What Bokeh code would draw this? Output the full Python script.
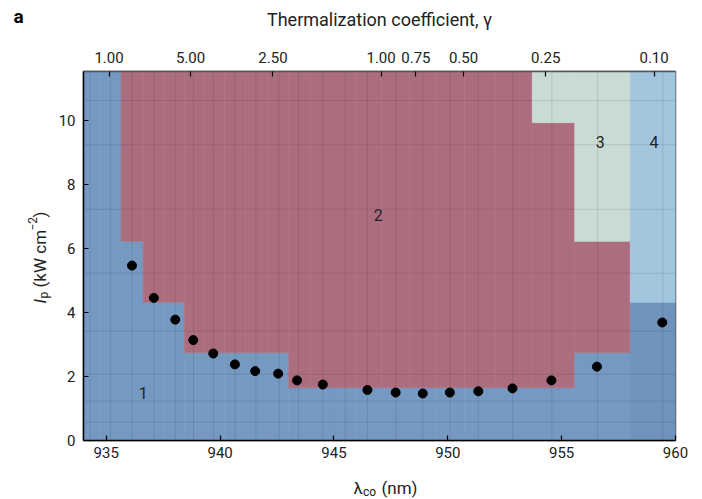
import numpy as np
from bokeh.plotting import figure
from bokeh.layouts import row, column
from bokeh.models import Range1d, LinearAxis, FixedTicker
from bokeh.embed import file_html
from bokeh.resources import INLINE
from bokeh.core.properties import value

# ---------------- data ----------------
# heat-map cell centres (wavelength, nm) and pump intensity (kW cm^-2)
x_centers = [934.30, 935.18, 936.13, 937.11, 938.03, 938.83, 939.71, 940.66, 941.57,
             942.59, 943.44, 944.51, 945.49, 946.47, 947.73, 948.90, 950.10, 951.34,
             952.85, 954.57, 956.58, 959.44]
y_centers = [0.57, 1.23, 2.07, 3.42, 5.23, 7.23, 9.25, 10.63]
# region id of every cell, one list per column, bottom -> top
region_cols = [
    [1, 1, 1, 1, 1, 1, 1, 1],
    [1, 1, 1, 1, 1, 1, 1, 1],
    [1, 1, 1, 1, 1, 2, 2, 2],
    [1, 1, 1, 1, 2, 2, 2, 2],
    [1, 1, 1, 1, 2, 2, 2, 2],
    [1, 1, 1, 2, 2, 2, 2, 2],
    [1, 1, 1, 2, 2, 2, 2, 2],
    [1, 1, 1, 2, 2, 2, 2, 2],
    [1, 1, 1, 2, 2, 2, 2, 2],
    [1, 1, 1, 2, 2, 2, 2, 2],
    [1, 1, 2, 2, 2, 2, 2, 2],
    [1, 1, 2, 2, 2, 2, 2, 2],
    [1, 1, 2, 2, 2, 2, 2, 2],
    [1, 1, 2, 2, 2, 2, 2, 2],
    [1, 1, 2, 2, 2, 2, 2, 2],
    [1, 1, 2, 2, 2, 2, 2, 2],
    [1, 1, 2, 2, 2, 2, 2, 2],
    [1, 1, 2, 2, 2, 2, 2, 2],
    [1, 1, 2, 2, 2, 2, 2, 2],
    [1, 1, 2, 2, 2, 2, 2, 3],
    [1, 1, 1, 2, 2, 3, 3, 3],
    [5, 5, 5, 5, 4, 4, 4, 4],
]
region_colors = {1: "#7599c0", 2: "#ac6e7e", 3: "#c9dbd5", 4: "#a1c6dd", 5: "#7093bb"}

# measured threshold points
pts_lambda = [936.13, 937.09, 938.03, 938.82, 939.70, 940.65, 941.54, 942.55, 943.38,
              944.51, 946.47, 947.71, 948.90, 950.09, 951.34, 952.84, 954.55, 956.55, 959.42]
pts_ip = [5.47, 4.46, 3.78, 3.14, 2.72, 2.38, 2.17, 2.09, 1.88, 1.75, 1.58, 1.50, 1.47,
          1.50, 1.54, 1.63, 1.88, 2.31, 3.69]

# region numbers
region_names = ["1", "2", "3", "4"]
region_lx = [936.62, 946.94, 956.69, 959.06]
region_ly = [1.48, 7.04, 9.32, 9.32]

# top axis: thermalization coefficient gamma
gamma_pos = [935.12, 938.70, 942.32, 947.07, 948.60, 950.69, 954.30, 959.06]
gamma_labels = ["1.00", "5.00", "2.50", "1.00", "0.75", "0.50", "0.25", "0.10"]

x_ticks = [935, 940, 945, 950, 955, 960]
y_ticks = [0, 2, 4, 6, 8, 10]

X_MIN, X_MAX = 934.0, 960.0
Y_MIN, Y_MAX = 0.0, 11.54

FONT = "Roboto"
TXT = "#222222"

# ---------------- cells -> quads ----------------
xe = [X_MIN] + [(a + b) / 2 for a, b in zip(x_centers[:-1], x_centers[1:])] + [X_MAX]
ye = [Y_MIN] + [(a + b) / 2 for a, b in zip(y_centers[:-1], y_centers[1:])] + [Y_MAX]
L, R, B, T, C = [], [], [], [], []
for i, col in enumerate(region_cols):
    j = 0
    while j < len(col):
        k = j
        while k + 1 < len(col) and col[k + 1] == col[j]:
            k += 1
        L.append(xe[i]); R.append(xe[i + 1]); B.append(ye[j]); T.append(ye[k + 1])
        C.append(region_colors[col[j]])
        j = k + 1

LEFT_W, MAIN_H, BOT_H, TOTAL_W = 52, 468, 30, 702

p = figure(width=TOTAL_W - LEFT_W, height=MAIN_H, output_backend="svg", toolbar_location=None,
           x_range=Range1d(X_MIN, X_MAX), y_range=Range1d(Y_MIN, Y_MAX),
           min_border_left=83 - LEFT_W, min_border_right=27, min_border_top=71,
           min_border_bottom=28, frame_align=False)
p.background_fill_color = "white"
p.border_fill_color = "white"
p.outline_line_color = "#555555"
p.outline_line_width = 1.5
p.xgrid.visible = False
p.ygrid.visible = False

p.quad(left=L, right=R, bottom=B, top=T, fill_color=C, line_color=C, line_width=0.6)

# faint cell lines
p.segment(x0=x_centers, y0=[Y_MIN] * len(x_centers), x1=x_centers, y1=[Y_MAX] * len(x_centers),
          line_color="#1a2030", line_alpha=0.12, line_width=1)
p.segment(x0=[X_MIN] * len(y_centers), y0=y_centers, x1=[X_MAX] * len(y_centers), y1=y_centers,
          line_color="#1a2030", line_alpha=0.12, line_width=1)

p.scatter(pts_lambda, pts_ip, size=9, color="black")

p.text(x=region_lx, y=region_ly, text=region_names, text_align="center",
       text_baseline="middle", text_font=value(FONT), text_font_size="16px", text_color=TXT)

def style_axis(ax):
    ax.major_tick_in = 5
    ax.major_tick_out = 0
    ax.minor_tick_line_color = None
    ax.major_label_text_font = FONT
    ax.major_label_text_font_size = "15px"
    ax.major_label_text_color = TXT
    ax.axis_line_color = "black"
    ax.axis_line_width = 1.5
    ax.major_tick_line_color = "black"
    ax.major_tick_line_width = 1.2

xa = p.xaxis[0]
xa.ticker = FixedTicker(ticks=x_ticks)
style_axis(xa)
xa.major_label_standoff = 6

ya = p.yaxis[0]
ya.ticker = FixedTicker(ticks=y_ticks)
style_axis(ya)
ya.major_label_standoff = 8

top = LinearAxis(ticker=FixedTicker(ticks=gamma_pos),
                 major_label_overrides={pos: lab for pos, lab in zip(gamma_pos, gamma_labels)})
style_axis(top)
top.axis_line_color = "#555555"
top.major_label_standoff = 9
top.axis_label = "Thermalization coefficient, γ"
top.axis_label_text_font = FONT
top.axis_label_text_font_size = "18px"
top.axis_label_text_font_style = "normal"
top.axis_label_text_color = TXT
top.axis_label_standoff = 19
p.add_layout(top, "above")

# ---------------- side strips carrying the composite axis titles ----------------
def strip(w, h):
    f = figure(width=w, height=h, output_backend="svg", toolbar_location=None,
               x_range=Range1d(0, w), y_range=Range1d(0, h), x_axis_type=None, y_axis_type=None,
               min_border=0, frame_align=False)
    f.outline_line_color = None
    f.xgrid.visible = False
    f.ygrid.visible = False
    return f

def put(f, x, y, text, size, style="normal", angle=0.0, align="left", baseline="alphabetic",
        color=TXT):
    f.text(x=[x], y=[y], text=[text], angle=angle, text_align=align, text_baseline=baseline,
           text_font=value(FONT), text_font_size=size, text_font_style=style, text_color=color)

left = strip(LEFT_W, MAIN_H)
A = np.pi / 2
put(left, 39, 165, "I", "17px", style="italic", angle=A)
put(left, 43, 170, "p", "12px", angle=A)
put(left, 39, 181, "(kW cm", "17px", angle=A)
put(left, 32, 238, "−2", "12px", angle=A)
put(left, 39, 251, ")", "17px", angle=A)
put(left, 18, MAIN_H - 16, "a", "19px", style="bold", align="center", baseline="middle",
    color="black")

bottom = strip(TOTAL_W, BOT_H)
put(bottom, 353, 11, "λ", "17px")
put(bottom, 362.5, 7, "co", "12px")
put(bottom, 381, 11, "(nm)", "17px")

layout = column(row(left, p, spacing=0), bottom, spacing=0)

open("out.html", "w").write(file_html(layout, INLINE))
